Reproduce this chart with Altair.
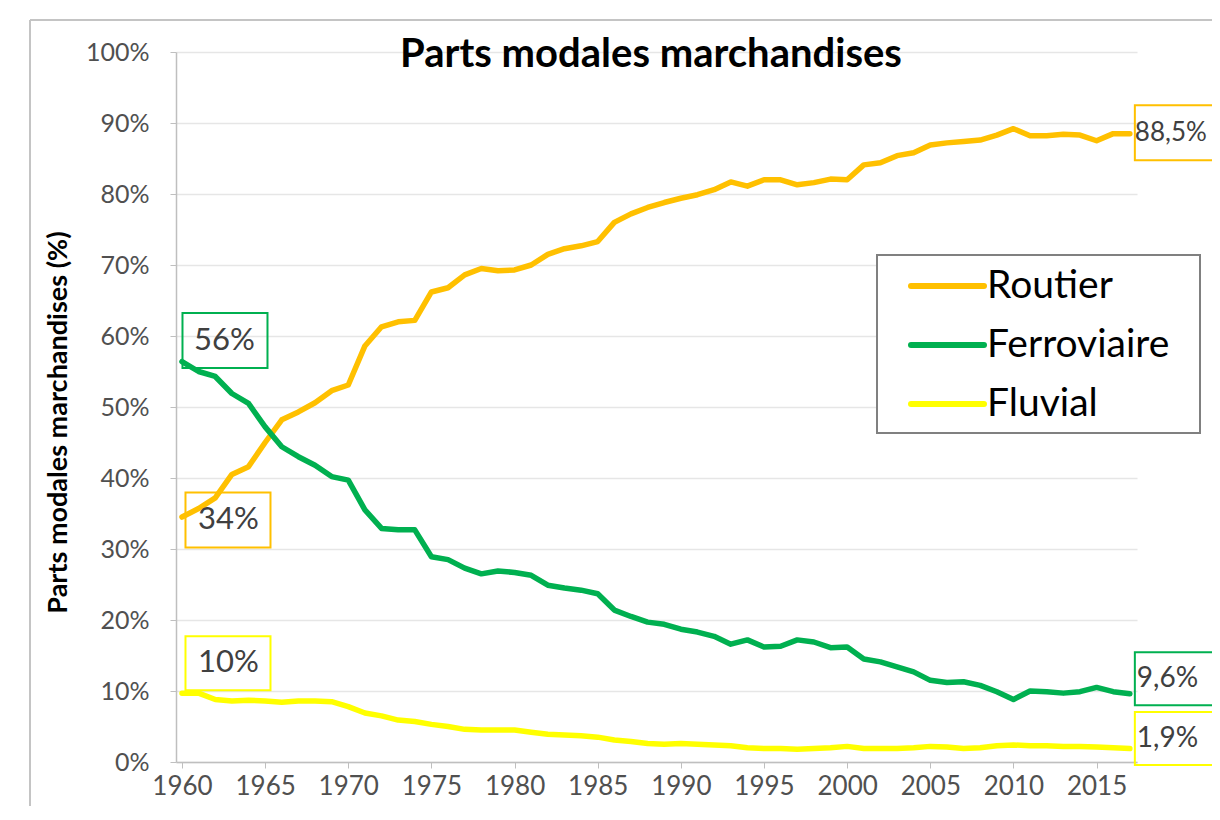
import altair as alt
import pandas as pd

years = list(range(1960, 2018))
routier = [34.5, 35.7, 37.2, 40.5, 41.6, 45.0, 48.2, 49.3, 50.6, 52.3,
           53.1, 58.6, 61.3, 62.0, 62.2, 66.2, 66.8, 68.6, 69.5, 69.2,
           69.3, 70.0, 71.5, 72.3, 72.7, 73.3, 76.0, 77.2, 78.1, 78.8,
           79.4, 79.9, 80.6, 81.7, 81.1, 82.0, 82.0, 81.3, 81.6, 82.1,
           82.0, 84.1, 84.4, 85.4, 85.8, 86.9, 87.2, 87.4, 87.6, 88.3,
           89.2, 88.2, 88.2, 88.4, 88.3, 87.5, 88.5, 88.5]
ferroviaire = [56.4, 55.0, 54.3, 51.9, 50.5, 47.2, 44.4, 43.0, 41.8, 40.2,
               39.7, 35.5, 32.9, 32.7, 32.7, 28.9, 28.5, 27.3, 26.5, 26.9,
               26.7, 26.3, 24.9, 24.5, 24.2, 23.7, 21.4, 20.5, 19.7, 19.4,
               18.7, 18.3, 17.7, 16.6, 17.2, 16.2, 16.3, 17.2, 16.9, 16.1,
               16.2, 14.5, 14.1, 13.4, 12.7, 11.5, 11.2, 11.3, 10.8, 9.9,
               8.8, 10.0, 9.9, 9.7, 9.9, 10.5, 9.9, 9.6]
fluvial = [9.7, 9.7, 8.8, 8.6, 8.7, 8.6, 8.4, 8.6, 8.6, 8.5,
           7.8, 6.9, 6.5, 5.9, 5.7, 5.3, 5.0, 4.6, 4.5, 4.5,
           4.5, 4.2, 3.9, 3.8, 3.7, 3.5, 3.1, 2.9, 2.6, 2.5,
           2.6, 2.5, 2.4, 2.3, 2.0, 1.9, 1.9, 1.8, 1.9, 2.0,
           2.2, 1.9, 1.9, 1.9, 2.0, 2.2, 2.1, 1.9, 2.0, 2.3,
           2.4, 2.3, 2.3, 2.2, 2.2, 2.1, 2.0, 1.9]
series_names = ["Routier", "Ferroviaire", "Fluvial"]
series_colors = ["#FFC000", "#00B050", "#FFFF00"]
x_ticks = [1960, 1965, 1970, 1975, 1980, 1985, 1990, 1995, 2000, 2005, 2010, 2015]
y_ticks = [0, 10, 20, 30, 40, 50, 60, 70, 80, 90, 100]
chart_title = "Parts modales marchandises"
y_title = "Parts modales marchandises (%)"
ann_series = ["Ferroviaire", "Routier", "Fluvial", "Routier", "Ferroviaire", "Fluvial"]
ann_index = [0, 0, 0, 57, 57, 57]
ann_texts = ["56%", "34%", "10%", "88,5%", "9,6%", "1,9%"]

FONT = "Lato"
values_by_series = dict(zip(series_names, [routier, ferroviaire, fluvial]))
color_by_series = dict(zip(series_names, series_colors))

df = pd.DataFrame({
    "year": years * 3,
    "value": routier + ferroviaire + fluvial,
    "serie": [n for n in series_names for _ in years],
})

X = alt.X("year:Q",
          scale=alt.Scale(domain=[1959.64, 2017.43], nice=False, zero=False),
          axis=alt.Axis(values=x_ticks, format="d", title=None, grid=False,
                        labelFontSize=26, labelColor="#505050", labelPadding=5,
                        labelFlush=False, tickSize=6, tickColor="#bfbfbf",
                        domainColor="#bfbfbf", domainWidth=1.5))
Y = alt.Y("value:Q",
          scale=alt.Scale(domain=[0, 100], nice=False),
          axis=alt.Axis(values=y_ticks, labelExpr="datum.value + '%'",
                        title=y_title, grid=True, gridColor="#e6e6e6", gridWidth=1.5,
                        labelFontSize=25, labelColor="#505050", labelPadding=21,
                        tickSize=6, tickColor="#bfbfbf", domainColor="#bfbfbf",
                        domainWidth=1.5, titleFontSize=27, titleFontWeight="bold",
                        titleColor="black", titleX=-118, titleY=370, titleAngle=270,
                        titleAlign="center", titleBaseline="middle"))

one = pd.DataFrame({"k": [0]})
layers = []

# chart frame (Excel chart border)
layers.append(alt.Chart(one).mark_rule(color="#c4c4c4", strokeWidth=2).encode(
    x=alt.value(-146), y=alt.value(-32), y2=alt.value(900)))
layers.append(alt.Chart(one).mark_rule(color="#c4c4c4", strokeWidth=2).encode(
    x=alt.value(-146), x2=alt.value(1200), y=alt.value(-32)))

# series lines
for name in series_names:
    layers.append(
        alt.Chart(df).transform_filter(alt.datum.serie == name)
        .mark_line(strokeWidth=5.5, strokeJoin="round", strokeCap="round",
                   color=color_by_series[name])
        .encode(x=X, y=Y)
    )

# annotation boxes and texts
box_style = [  # dx, dy, width, height, text dx, font size
    (43, -21, 85, 55, 12, 31),
    (46, 3, 85, 55, 16, 31),
    (46, -30, 85, 54, 16, 31),
    (55, -1, 100, 55, 5, 26),
    (55, -15, 100, 53, 7, 28),
    (55, -10, 100, 53, 7, 28),
]
for s, i, t, (dx, dy, w, h, tdx, fs) in zip(ann_series, ann_index, ann_texts, box_style):
    row = pd.DataFrame({"year": [years[i]], "value": [values_by_series[s][i]], "label": [t]})
    layers.append(
        alt.Chart(row).mark_rect(fillOpacity=0, stroke=color_by_series[s], strokeWidth=2,
                                 xOffset=dx - w / 2, x2Offset=dx + w / 2,
                                 yOffset=dy - h / 2, y2Offset=dy + h / 2)
        .encode(x=X, x2="year:Q", y=Y, y2="value:Q")
    )
    layers.append(
        alt.Chart(row).mark_text(align="left", baseline="middle", dx=tdx, dy=dy,
                                 fontSize=fs, font=FONT, color="#404040")
        .encode(x=X, y=Y, text="label:N")
    )

# legend (manual, framed box)
layers.append(alt.Chart(one).mark_rect(fill="white", stroke="#808080", strokeWidth=2).encode(
    x=alt.value(701), x2=alt.value(1024), y=alt.value(203), y2=alt.value(381)))
for k, name in enumerate(series_names):
    ly = 234 + 59 * k
    layers.append(alt.Chart(one).mark_rule(color=color_by_series[name], strokeWidth=6,
                                           strokeCap="round").encode(
        x=alt.value(735), x2=alt.value(808), y=alt.value(ly)))
    layers.append(alt.Chart(one).mark_text(text=name, align="left", baseline="middle",
                                           fontSize=39, font=FONT, color="black").encode(
        x=alt.value(811), y=alt.value(ly)))

# title
layers.append(alt.Chart(one).mark_text(text=chart_title, align="center", baseline="middle",
                                       fontSize=40, font=FONT, fontWeight="bold",
                                       color="black").encode(
    x=alt.value(475), y=alt.value(3)))

chart = alt.layer(*layers).properties(
    width=961, height=710,
    padding={"left": 168, "top": 44, "right": 75, "bottom": 44},
    autosize=alt.AutoSizeParams(type="none"),
    background="white",
).configure_view(strokeWidth=0).configure_axis(labelFont=FONT, titleFont=FONT)

chart.save("out.html", embed_options={"renderer": "svg", "actions": False})
